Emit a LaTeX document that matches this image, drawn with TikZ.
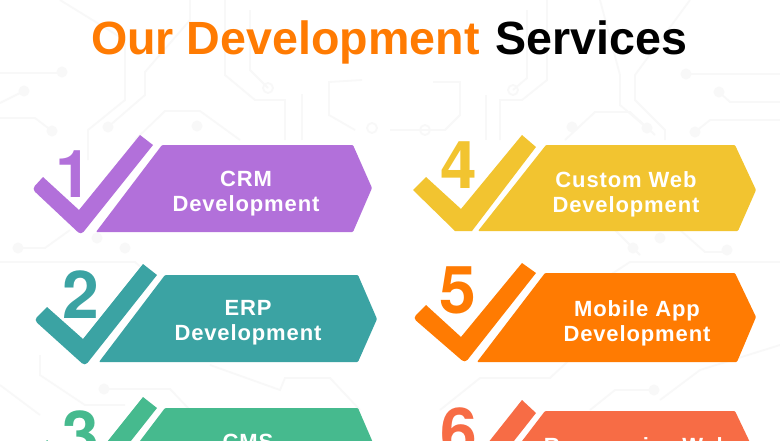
\documentclass[tikz,border=0pt]{standalone}
\usepackage{fontspec}
\setmainfont{Liberation Sans}
\newfontfamily\wordfont[LetterSpace=4]{Liberation Sans}
\newfontfamily\numfont{TeX Gyre Heros}
\usepackage{tikz}
\definecolor{crmcol}{HTML}{B270DA}
\definecolor{erpcol}{HTML}{3BA3A3}
\definecolor{cmscol}{HTML}{46BA8E}
\definecolor{webcol}{HTML}{F2C430}
\definecolor{appcol}{HTML}{FF7B02}
\definecolor{respcol}{HTML}{F76C45}
\definecolor{tracecol}{HTML}{F8F8F8}
\tikzset{
	trace/.style = {draw = tracecol, line width = 1.8pt},
	pad/.style = {fill = tracecol, circle, inner sep = 0pt, minimum size = 11pt},
	ring/.style = {draw = tracecol, line width = 1.8pt, circle, inner sep = 0pt, minimum size = 10pt},
	banner/.style = {fill = #1, rounded corners = 1pt},
	tick/.style = {fill = #1},
	digit/.style = {text = #1, anchor = base, inner sep = 0pt, font = \numfont\bfseries\fontsize{66}{66}\selectfont},
	word/.style = {text = white, align = center, inner sep = 0pt, font = \wordfont\bfseries\fontsize{22}{25}\selectfont},
	heading/.style = {anchor = base, inner sep = 0pt, font = \bfseries\fontsize{46.6}{50}\selectfont}
}
\begin{document}
\begin{tikzpicture}[x = 1pt, y = -1pt]
	\useasboundingbox (0,0) rectangle (780,440);
	\clip (0,0) rectangle (780,440);
	\fill[white] (0,0) rectangle (780,440);
	% faint board lines behind everything
	\draw[trace] (0,73) -- (62,73);
	\draw[trace] (24,91) -- (0,103);
	\draw[trace] (52,131) -- (35,118) -- (0,118);
	\draw[trace] (60,0) -- (125,40) -- (125,100) -- (88,130) -- (88,160);
	\draw[trace] (108,127) -- (145,95) -- (145,72) -- (190,20) -- (190,0);
	\draw[trace] (135,140) -- (165,111) -- (200,111) -- (240,140);
	\draw[trace] (225,0) -- (225,75) -- (255,100) -- (285,100) -- (285,140);
	\draw[trace] (268,88) -- (250,70) -- (250,10);
	\draw[trace] (302,140) -- (302,94);
	\draw[trace] (362,80) -- (329,82) -- (329,115) -- (355,130);
	\draw[trace] (433,82) -- (460,82) -- (460,115) -- (445,130) -- (390,130);
	\draw[trace] (486,95) -- (486,140);
	\draw[trace] (513,90) -- (527,78) -- (527,10);
	\draw[trace] (547,0) -- (547,80) -- (522,100) -- (500,100) -- (500,140);
	\draw[trace] (565,140) -- (595,112) -- (630,112) -- (655,135);
	\draw[trace] (600,0) -- (620,75) -- (620,105) -- (647,128);
	\draw[trace] (690,0) -- (635,75) -- (635,100) -- (665,130) -- (665,140);
	\draw[trace] (686,74) -- (780,74);
	\draw[trace] (719,92) -- (730,102) -- (780,102);
	\draw[trace] (695,132) -- (710,120) -- (780,120);
	\draw[trace] (18,248) -- (45,248) -- (70,230);
	\draw[trace] (0,262) -- (135,262) -- (150,275);
	\draw[trace] (780,262) -- (630,262) -- (610,275);
	\draw[trace] (615,230) -- (640,255);
	\draw[trace] (680,230) -- (705,252) -- (727,252);
	\draw[trace] (40,355) -- (40,375) -- (85,405) -- (125,405);
	\draw[trace] (104,389) -- (170,389) -- (190,410);
	\draw[trace] (0,385) -- (40,415);
	\draw[trace] (210,365) -- (280,390) -- (285,378) -- (330,378) -- (360,410);
	\draw[trace] (440,410) -- (480,378) -- (550,378) -- (580,350);
	\draw[trace] (590,410) -- (615,390) -- (654,390);
	\draw[trace] (660,400) -- (700,370) -- (780,345);
	\foreach \x/\y in {62/72, 24/91, 52/131, 108/127, 197/126, 18/248, 97/238, 125/248, 572/127, 647/128, 686/74, 719/92, 695/132, 633/248, 660/238, 727/250, 104/389, 654/390} \node[pad] (pad\x) at (\x,\y) {};
	\foreach \x/\y in {268/88, 372/128, 513/90, 425/130} \node[ring] (ring\x) at (\x,\y) {};
	% banners
	\fill[banner = crmcol] (162,145) -- (353,145) -- (372,188) -- (353,232) -- (96,232) -- cycle;
	\fill[banner = erpcol] (165,275) -- (358,275) -- (377,319) -- (358,362) -- (99,362) -- cycle;
	\fill[banner = cmscol] (165,408) -- (358,408) -- (377,452) -- (358,495) -- (99,495) -- cycle;
	\fill[banner = webcol] (546,145) -- (735,145) -- (756,190) -- (738,231) -- (478,231) -- cycle;
	\fill[banner = appcol] (545,273) -- (735,273) -- (756,317) -- (737,362) -- (477,362) -- cycle;
	\fill[banner = respcol] (545,411) -- (735,411) -- (756,455) -- (737,500) -- (477,500) -- cycle;
	% ticks
	\fill[tick = crmcol] (140,135) -- (153,145) [rounded corners = 4pt] -- (81,235) -- (32,189) [sharp corners] -- (43,177) -- (79,210) -- cycle;
	\fill[tick = erpcol] (143,264) -- (157,275) [rounded corners = 4pt] -- (85,366) -- (34,320) [sharp corners] -- (47,307) -- (83,339) -- cycle;
	\fill[tick = cmscol] (143,397) -- (157,408) [rounded corners = 4pt] -- (85,499) -- (34,453) [sharp corners] -- (47,440) -- (83,472) -- cycle;
	\fill[tick = webcol] (522,135) -- (536,147) -- (472,231) -- (455,231) -- (413,190) -- (426,177) -- (461,209) -- cycle;
	\fill[tick = appcol] (522,263) -- (536,273) [rounded corners = 4pt] -- (465,363) -- (413,318) [sharp corners] -- (426,305) -- (461,337) -- cycle;
	\fill[tick = respcol] (522,400) -- (536,413) [rounded corners = 4pt] -- (465,503) -- (413,458) [sharp corners] -- (426,445) -- (461,477) -- cycle;
	% numbers
	\node[digit = crmcol] (num1) at (74,197) {1};
	\node[digit = erpcol] (num2) at (81,318) {2};
	\node[digit = cmscol] (num3) at (81,458) {3};
	\node[digit = webcol] (num4) at (459,188) {4};
	\node[digit = appcol] (num5) at (458,313) {5};
	\node[digit = respcol] (num6) at (459,455) {6};
	% labels
	\node[word] (crm) at (246,194) {CRM\\Development};
	\node[word] (erp) at (248,323) {ERP\\Development};
	\node[word, anchor = base] (cms) at (248,449) {CMS};
	\node[word] (custom) at (626,194) {Custom Web\\Development};
	\node[word] (mobile) at (637,323) {Mobile App\\Development};
	\node[word, anchor = base] (resp) at (637,453) {Responsive Web};
	% title
	\node[heading, text = appcol, anchor = base west] (titleA) at (91,54) {Our Development};
	\node[heading, text = black, anchor = base west] (titleB) at (495,54) {Services};
\end{tikzpicture}
\end{document}
